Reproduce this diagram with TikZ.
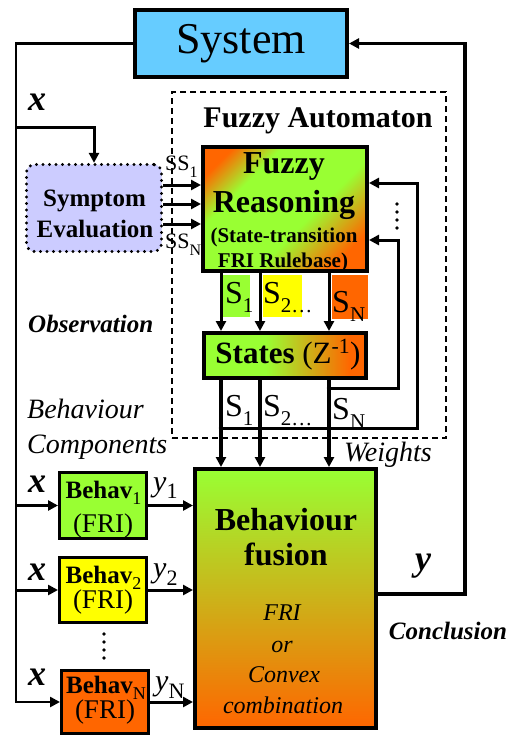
\documentclass[tikz,border=0pt]{standalone}
\usepackage{fontspec}
\setmainfont{Liberation Serif}
\usetikzlibrary{arrows.meta}

\definecolor{sysblue}{HTML}{66CCFF}
\definecolor{lav}{HTML}{CCCCFF}
\definecolor{fgreen}{HTML}{99FF33}
\definecolor{fyellow}{HTML}{FFFF00}
\definecolor{forange}{HTML}{FF6600}

% font size helper and lowered subscript helper
\newcommand{\fs}[1]{\fontsize{#1}{#1}\selectfont}
\newcommand{\low}[3]{\raisebox{-#3}{\fs{#1}#2}}

% shadings of the automaton blocks
\pgfdeclareverticalshading{diagshade}{100bp}{color(0bp)=(forange); color(24bp)=(forange); color(42bp)=(fgreen); color(66bp)=(fgreen); color(78bp)=(forange); color(100bp)=(forange)}
\pgfdeclarehorizontalshading{stateshade}{100bp}{color(0bp)=(fgreen); color(44bp)=(fgreen); color(70bp)=(forange); color(100bp)=(forange)}

\tikzset{
  box/.style={draw, inner sep=0pt, line width=4pt},
  arr/.style={line width=3pt, -{Triangle[length=10pt,width=10pt]}},
  txt/.style={inner sep=0pt, anchor=base},
  txtw/.style={inner sep=0pt, anchor=base west},
}

\begin{document}
\begin{tikzpicture}[x=1pt,y=-1pt]
\useasboundingbox (0,0) rectangle (517,736);

% dashed frame of the automaton
\node[draw, dash pattern=on 6pt off 4pt, line width=2pt, minimum width=274pt, minimum height=346pt, inner sep=0pt] (auto) at (309,265) {};

% coloured backgrounds of the state labels
\node[fill=fgreen, minimum width=27pt, minimum height=42pt, inner sep=0pt] (bg1) at (236.5,296) {};
\node[fill=fyellow, minimum width=39pt, minimum height=42pt, inner sep=0pt] (bg2) at (282.5,296) {};
\node[fill=forange, minimum width=36pt, minimum height=44pt, inner sep=0pt] (bgn) at (350,297) {};

% blocks
\node[box, fill=sysblue, minimum width=212pt, minimum height=67pt] (sys) at (241,43.5) {};
\node[draw, fill=lav, line width=3.3pt, dash pattern=on 0pt off 6.5pt, line cap=round, rounded corners=8pt, minimum width=135pt, minimum height=87pt, inner sep=0pt] (sym) at (94,208) {};
\node[box, shading=diagshade, shading angle=45, minimum width=164pt, minimum height=124pt] (rea) at (285,209) {};
\node[box, shading=stateshade, minimum width=162pt, minimum height=45pt] (sta) at (285,355.5) {};
\node[box, top color=fgreen, bottom color=forange, minimum width=181pt, minimum height=259pt] (fus) at (285.5,598.5) {};
\node[box, line width=3pt, fill=fgreen, minimum width=87pt, minimum height=66pt] (b1) at (103,505.5) {};
\node[box, line width=3pt, fill=fyellow, minimum width=87pt, minimum height=65pt] (b2) at (103,590) {};
\node[box, line width=3pt, fill=forange, minimum width=87pt, minimum height=63pt] (bN) at (105,702) {};

% helper coordinates for the wiring
\coordinate (railbot) at (16,702);
\coordinate (xbr) at (16,127);
\coordinate (rt) at (465,43.5);
\coordinate (j1) at (221,428);
\coordinate (j2) at (329,388);

% input x to every behaviour and to the symptom evaluation
\draw[arr, line width=2.6pt] (sys.west) -| (railbot) -- (bN.west);
\draw[arr] (b1.west -| railbot) -- (b1.west);
\draw[arr] (b2.west -| railbot) -- (b2.west);
\draw[arr] (xbr) -| (sym.north);

% symptoms into the reasoning
\foreach \yy in {185,204,224}
  \draw[arr] (sym.east |- 0,\yy) -- (rea.west |- 0,\yy);

% reasoning to states, states to fusion weights
\foreach \xx in {221,260,329} {
  \draw[arr] (rea.south -| \xx,0) -- (sta.north -| \xx,0);
  \draw[arr, line width=3.5pt] (sta.south -| \xx,0) -- (fus.north -| \xx,0);
}

% state feedback into the reasoning
\draw[arr] (j2) -| (398,240) -- (rea.east |- 0,240);
\draw[arr] (j1) -| (417,183) -- (rea.east |- 0,183);
\fill (j1) circle (2.2pt);
\fill (j2) circle (2.2pt);
\foreach \yy in {204,212,220,228} \fill (397,\yy) circle (1.9pt);

% behaviour outputs into the fusion
\draw[arr] (b1.east) -- (fus.west |- b1.east);
\draw[arr] (b2.east) -- (fus.west |- b2.east);
\draw[arr] (bN.east) -- (fus.west |- bN.east);
\foreach \yy in {634,642,650,658} \fill (104,\yy) circle (1.9pt);

% conclusion back to the system
\draw[arr, line width=3.2pt] (fus.east |- 0,594) -| (rt) -- (sys.east);

% texts
\node[txt, font=\fs{44}] (tsys) at (241,53) {System};
\node[txt, font=\bfseries\fs{30}] (tauto) at (318,127) {Fuzzy Automaton};
\node[txt, font=\bfseries\fs{25}] (tsym1) at (94.5,206) {Symptom};
\node[txt, font=\bfseries\fs{25}] (tsym2) at (95,237) {Evaluation};
\node[txt, font=\bfseries\fs{32}] (trea1) at (284,173) {Fuzzy};
\node[txt, font=\bfseries\fs{32}] (trea2) at (284,212) {Reasoning};
\node[txt, font=\bfseries\fs{21}] (trea3) at (284,242) {(State-transition};
\node[txt, font=\bfseries\fs{21}] (trea4) at (283,267) {FRI Rulebase)};
\node[txt, font=\fs{31}] (tsta) at (288,363) {\textbf{States} (Z\textsuperscript{-1})};

\node[txtw, font=\fs{22}] (ss1) at (165,170) {SS\low{16}{1}{7pt}};
\node[txtw, font=\fs{22}] (ssn) at (165,248) {SS\low{16}{N}{7pt}};

\node[txtw, font=\fs{32}] (sa1) at (225,303) {S\low{21}{1}{9pt}};
\node[txtw, font=\fs{32}] (sa2) at (263,303) {S\low{21}{2\ldots}{9pt}};
\node[txtw, font=\fs{32}] (san) at (332,312) {S\low{21}{N}{9pt}};
\node[txtw, font=\fs{32}] (sb1) at (225,416) {S\low{21}{1}{9pt}};
\node[txtw, font=\fs{32}] (sb2) at (263,416) {S\low{21}{2\ldots}{9pt}};
\node[txtw, font=\fs{32}] (sbn) at (332,419) {S\low{21}{N}{9pt}};

\node[txt, font=\bfseries\fs{32}] (tfus1) at (286,530) {Behaviour};
\node[txt, font=\bfseries\fs{32}] (tfus2) at (286,565) {fusion};
\node[txt, font=\itshape\fs{24}] (tfus3) at (282,620) {FRI};
\node[txt, font=\itshape\fs{24}] (tfus4) at (282,652) {or};
\node[txt, font=\itshape\fs{24}] (tfus5) at (284,682) {Convex};
\node[txt, font=\itshape\fs{24}] (tfus6) at (283,713) {combination};

\node[txt, font=\bfseries\fs{25}] (tb1) at (103.5,498) {Behav\low{18}{\mdseries 1}{6pt}};
\node[txt, font=\fs{27}] (tf1) at (103,532) {(FRI)};
\node[txt, font=\bfseries\fs{25}] (tb2) at (103.5,583) {Behav\low{18}{\mdseries 2}{6pt}};
\node[txt, font=\fs{27}] (tf2) at (103,608) {(FRI)};
\node[txt, font=\bfseries\fs{25}] (tbn) at (106,693) {Behav\low{18}{\mdseries N}{6pt}};
\node[txt, font=\fs{27}] (tfn) at (105,718) {(FRI)};

\node[txt, font=\bfseries\itshape\fs{36}] (x0) at (37,110) {x};
\node[txt, font=\bfseries\itshape\fs{36}] (x1) at (37,492) {x};
\node[txt, font=\bfseries\itshape\fs{36}] (x2) at (37,580) {x};
\node[txt, font=\bfseries\itshape\fs{36}] (x3) at (37,685) {x};

\node[txtw, font=\itshape\fs{30}] (y1) at (153,491) {y\low{22}{\upshape 1}{7pt}};
\node[txtw, font=\itshape\fs{30}] (y2) at (153,577) {y\low{22}{\upshape 2}{8pt}};
\node[txtw, font=\itshape\fs{30}] (yn) at (155,690) {y\low{22}{\upshape N}{8pt}};

\node[txt, font=\bfseries\itshape\fs{36}] (yout) at (423,570) {y};
\node[txt, font=\bfseries\itshape\fs{25}] (tconc) at (448,639) {Conclusion};
\node[txtw, font=\bfseries\itshape\fs{25}] (tobs) at (28,332) {Observation};
\node[txtw, font=\itshape\fs{28}] (tbc1) at (27,418) {Behaviour};
\node[txtw, font=\itshape\fs{28}] (tbc2) at (27,453) {Components};
\node[txt, font=\itshape\fs{28}] (twei) at (388,461) {Weights};
\end{tikzpicture}
\end{document}
